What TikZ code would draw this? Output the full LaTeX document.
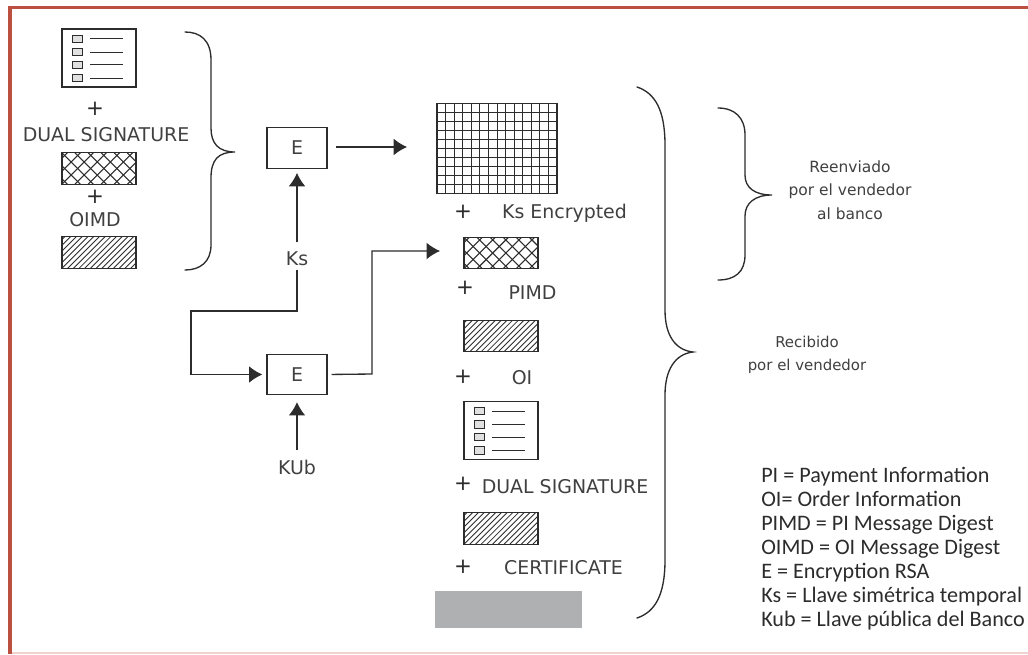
\documentclass[tikz,border=0pt]{standalone}
\usepackage{fontspec}
\setmainfont{DejaVu Sans}
\newfontfamily\legendfont{Carlito}
\usetikzlibrary{arrows.meta}
\definecolor{frame}{HTML}{BC5040}
\definecolor{ink}{HTML}{2C2C2C}
\definecolor{txt}{HTML}{404040}
\definecolor{greybox}{HTML}{AEB0B2}
\tikzset{
  x=0.75pt,y=-0.75pt,
  lbl/.style={font=\fontsize{14.2}{15}\selectfont,text=txt,inner sep=0pt},
  plus/.style={font=\fontsize{16}{15}\selectfont,text=ink,inner sep=0pt},
  ebox/.style={draw=ink,line width=0.9pt,minimum width=45pt,minimum height=30.5pt,inner sep=0pt,font=\fontsize{14.2}{15}\selectfont,text=txt},
  conn/.style={draw=ink,line width=1pt,-{Latex[length=10pt,width=12.5pt]}},
  bracep/.style={draw=ink,line width=1pt,line cap=round},
  swatch/.style={draw=ink,line width=0.9pt,minimum width=55.5pt,minimum height=23.5pt,inner sep=0pt},
  hatchbox/.style={swatch,path picture={
    \foreach \k in {-6,...,18}
      \draw[ink,line width=0.65pt] ([xshift=\k*4.3pt]path picture bounding box.south west) -- ++(24pt,24pt);
  }},
  crossbox/.style={swatch,path picture={
    \foreach \k in {-4,...,8}{
      \draw[ink,line width=0.8pt] ([xshift=\k*9.8pt]path picture bounding box.south west) -- ++(24pt,24pt);
      \draw[ink,line width=0.8pt] ([xshift=\k*9.8pt]path picture bounding box.north west) -- ++(24pt,-24pt);
    }
  }},
  listbox/.style={draw=ink,line width=0.9pt,minimum width=55.5pt,minimum height=43.5pt,inner sep=0pt,path picture={
    \foreach \d in {-15,-5,4.5,14.5}{
      \draw[ink,line width=0.6pt,fill=black!12] ([xshift=-16.5pt,yshift=\d pt]path picture bounding box.center) ++(-3.75pt,-2.75pt) rectangle ++(7.5pt,5.5pt);
      \draw[ink,line width=0.6pt] ([xshift=-6.75pt,yshift=\d pt]path picture bounding box.center) -- ++(25pt,0);
    }
  }},
  gridbox/.style={draw=ink,line width=0.9pt,minimum width=90pt,minimum height=68pt,inner sep=0pt,path picture={
    \foreach \k in {1,...,13}
      \draw[ink,line width=0.6pt] ([xshift=\k*6.43pt]path picture bounding box.south west) -- ++(0,70pt);
    \foreach \k in {1,...,9}
      \draw[ink,line width=0.6pt] ([yshift=\k*6.8pt]path picture bounding box.south west) -- ++(92pt,0);
  }}
}
\begin{document}
\begin{tikzpicture}
\useasboundingbox (0,0) rectangle (1028,654);
\fill[white] (0,0) rectangle (1028,654);
% frame
\fill[frame] (8,6) rectangle (1028,9);
\fill[frame] (8,6) rectangle (12,654);
\fill[frame!25] (12,651.5) rectangle (1028,653.5);
% left column
\node[listbox] (icon1) at (99,58) {};
\node[plus] (p1) at (95,109) {+};
\node[lbl] (t1) at (106,135) {DUAL SIGNATURE};
\node[crossbox] (c1) at (99,168.5) {};
\node[plus] (p2) at (95,197) {+};
\node[lbl] (t2) at (95,220) {OIMD};
\node[hatchbox] (h1) at (99,252.5) {};
\coordinate (b1s) at (185,32);
\coordinate (b1t) at (235,152);
\coordinate (b1e) at (185,270);
\draw[bracep] (b1s) .. controls (200,32) and (211,40) .. (211,60) -- (211,128) .. controls (211,143) and (218,152) .. (b1t) .. controls (218,152) and (211,160) .. (211,178) -- (211,245) .. controls (211,262) and (200,270) .. (b1e);
% E boxes
\node[ebox] (e1) at (297,148) {E};
\node[ebox] (e2) at (297,374.5) {E};
\node[lbl] (ks) at (297,259) {Ks};
\node[lbl] (kub) at (297,467) {KUb};
% center column
\node[gridbox] (grid) at (497,148.5) {};
\node[plus] (p3) at (463,212) {+};
\node[lbl] (t3) at (564.5,213) {Ks Encrypted};
\node[crossbox] (c2) at (501,253) {};
\node[plus] (p4) at (465,288) {+};
\node[lbl] (t4) at (532.5,293) {PIMD};
\node[hatchbox] (h2) at (501,336) {};
\node[plus] (p5) at (463,377) {+};
\node[lbl] (t5) at (522,378) {OI};
\node[listbox] (icon2) at (501,430.5) {};
\node[plus] (p6) at (463,484) {+};
\node[lbl] (t6) at (565,487) {DUAL SIGNATURE};
\node[hatchbox] (h3) at (501,528.5) {};
\node[plus] (p7) at (463,567) {+};
\node[lbl] (t7) at (563.5,568) {CERTIFICATE};
\node[fill=greybox,minimum width=110.5pt,minimum height=28pt,inner sep=0pt] (cert) at (508.5,609.5) {};
% connectors
\draw[conn,shorten <=6.5pt,shorten >=22pt] (e1.east|-0,147) -- (grid.west|-0,147);
\draw[conn,shorten <=7pt,shorten >=3pt] (ks) -- (e1);
\coordinate (k1) at (297,311);
\coordinate (k2) at (191,311);
\draw[conn,shorten >=3pt] (ks.south) ++(0,4) -- (k1) -- (k2) -- (k2|-e2) -- (e2);
\draw[conn,shorten <=7pt,shorten >=5pt] (kub) -- (e2);
\coordinate (a2) at (440,251);
\coordinate (a3) at (372,374);
\draw[conn,shorten <=3.5pt] (e2) ++(22.5pt,0) -- (a3) -- (a3|-a2) -- (a2);
% braces
\coordinate (b2s) at (637,87);
\coordinate (b2t) at (693,352);
\coordinate (b2e) at (637,618);
\draw[bracep] (b2s) .. controls (655,93) and (665,110) .. (665,145) -- (665,310) .. controls (665,335) and (675,350) .. (b2t) .. controls (675,354) and (665,370) .. (665,395) -- (665,560) .. controls (665,595) and (655,612) .. (b2e);
\coordinate (b3s) at (718,108);
\coordinate (b3t) at (772,195);
\coordinate (b3e) at (718,280);
\draw[bracep] (b3s) .. controls (735,108) and (745,118) .. (745,135) -- (745,175) .. controls (745,188) and (755,195) .. (b3t) .. controls (755,195) and (745,203) .. (745,216) -- (745,255) .. controls (745,272) and (735,280) .. (b3e);
% side text
\node[lbl,align=center,font=\fontsize{11.6}{17.5}\selectfont] (t8) at (850,190) {Reenviado\\por el vendedor\\al banco};
\node[lbl,align=center,font=\fontsize{11.2}{17.5}\selectfont] (t9) at (807,355) {Recibido\\por el vendedor};
% legend
\node[lbl,align=left,anchor=west,text=ink,font=\legendfont\fontsize{16.6}{18}\selectfont] (leg) at (761,549) {PI = Payment Information\\OI= Order Information\\PIMD = PI Message Digest\\OIMD = OI Message Digest\\E = Encryption RSA\\Ks = Llave simétrica temporal\\Kub = Llave pública del Banco};
\end{tikzpicture}
\end{document}
